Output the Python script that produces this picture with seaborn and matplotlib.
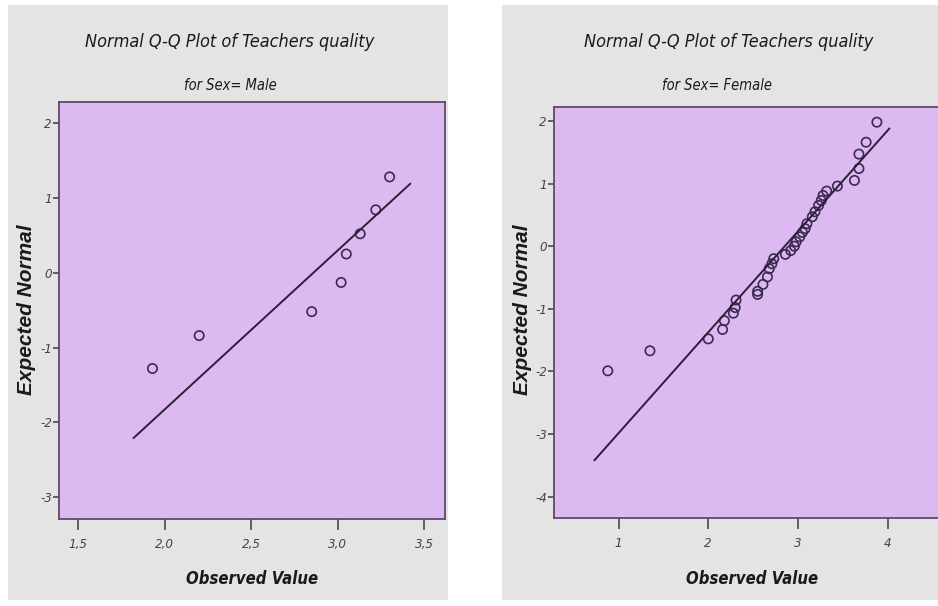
import pandas as pd
import seaborn as sns
import matplotlib.pyplot as plt
from matplotlib.patches import Rectangle
from matplotlib.ticker import FuncFormatter

# Data
male_observed = [1.93, 2.20, 2.85, 3.02, 3.05, 3.13, 3.22, 3.30]
male_expected = [-1.28, -0.84, -0.52, -0.13, 0.25, 0.52, 0.84, 1.28]
male_line_x = [1.82, 3.42]
male_line_y = [-2.21, 1.19]

female_observed = [0.88, 1.35, 2.00, 2.16, 2.18, 2.28, 2.30, 2.31, 2.55, 2.55,
                   2.61, 2.66, 2.68, 2.71, 2.73, 2.86, 2.92, 2.96, 2.98, 3.02,
                   3.05, 3.08, 3.10, 3.16, 3.19, 3.23, 3.26, 3.28, 3.32, 3.44,
                   3.63, 3.68, 3.68, 3.76, 3.88]
female_expected = [-1.99, -1.67, -1.48, -1.33, -1.19, -1.07, -0.98, -0.86, -0.77, -0.72,
                   -0.61, -0.49, -0.36, -0.28, -0.20, -0.13, -0.07, 0.00, 0.07, 0.15,
                   0.22, 0.28, 0.36, 0.47, 0.55, 0.65, 0.73, 0.81, 0.88, 0.96,
                   1.05, 1.24, 1.47, 1.66, 1.98]
female_line_x = [0.73, 4.02]
female_line_y = [-3.42, 1.88]

male_xticks = [1.5, 2.0, 2.5, 3.0, 3.5]
male_yticks = [-3, -2, -1, 0, 1, 2]
female_xticks = [1, 2, 3, 4]
female_yticks = [-4, -3, -2, -1, 0, 1, 2]

sns.set_style("white")
plt.rcParams["font.family"] = ["DejaVu Sans"]
plt.rcParams["axes.unicode_minus"] = False

PANEL_BG = "#e4e4e4"
PLOT_BG = "#dcb9f0"
INK = "#2b2038"
MARK = "#3a2a50"

fig = plt.figure(figsize=(9.38, 6.06), dpi=100)
fig.patch.set_facecolor("white")

# gray chart panels, behind the axes
fig.patches.append(Rectangle((0.0085, 0.0099), 0.469, 0.982, transform=fig.transFigure,
                             facecolor=PANEL_BG, edgecolor="none", zorder=-10))
fig.patches.append(Rectangle((0.535, 0.0099), 0.47, 0.982, transform=fig.transFigure,
                             facecolor=PANEL_BG, edgecolor="none", zorder=-10))

ax1 = fig.add_axes([0.0629, 0.1436, 0.4115, 0.688])
ax2 = fig.add_axes([0.5906, 0.1452, 0.415, 0.678])

male_df = pd.DataFrame({"Observed": male_observed, "Expected": male_expected})
female_df = pd.DataFrame({"Observed": female_observed, "Expected": female_expected})


def comma_fmt(v, pos):
    return f"{v:.1f}".replace(".", ",")


def qq_panel(ax, df, line_x, line_y, xlim, ylim, xticks, yticks, xfmt):
    ax.set_facecolor(PLOT_BG)
    sns.lineplot(x=line_x, y=line_y, ax=ax, color=INK, linewidth=1.4)
    sns.scatterplot(data=df, x="Observed", y="Expected", ax=ax, marker="o",
                    facecolor="none", edgecolor=MARK, linewidth=1.2, s=45)
    ax.set_xlim(*xlim)
    ax.set_ylim(*ylim)
    ax.set_xticks(xticks)
    ax.set_yticks(yticks)
    if xfmt is not None:
        ax.xaxis.set_major_formatter(FuncFormatter(xfmt))
    ax.set(xlabel=None, ylabel=None)
    for s in ax.spines.values():
        s.set_color("#5b4a6a")
        s.set_linewidth(1.3)
    ax.tick_params(axis="x", direction="out", length=8, width=1.2, color="#4a4a4a",
                   labelsize=9.5, labelcolor="#444444", pad=6, bottom=True)
    ax.tick_params(axis="y", direction="out", length=4, width=1.2, color="#4a4a4a",
                   labelsize=9.5, labelcolor="#444444", pad=1, left=True)
    for lab in ax.get_xticklabels() + ax.get_yticklabels():
        lab.set_fontstyle("italic")
        lab.set_fontstretch("condensed")


qq_panel(ax1, male_df, male_line_x, male_line_y, (1.39, 3.62), (-3.29, 2.28),
         male_xticks, male_yticks, comma_fmt)
qq_panel(ax2, female_df, female_line_x, female_line_y, (0.28, 4.62), (-4.34, 2.22),
         female_xticks, female_yticks, None)

# titles and labels
title_kw = dict(fontsize=13, fontstyle="italic", fontstretch="condensed", color="#1a1a1a",
                ha="center", va="center")
sub_kw = dict(fontsize=10.5, fontstyle="italic", fontstretch="condensed",
              color="#1a1a1a", ha="center", va="center")
xl_kw = dict(fontsize=12, fontstyle="italic", fontweight="bold", fontstretch="condensed",
             color="#1a1a1a", ha="center", va="center")
yl_kw = dict(fontsize=15, fontstyle="italic", fontweight="bold", color="#1a1a1a",
             ha="center", va="center", rotation=90,
             family=["Liberation Sans", "DejaVu Sans"])

fig.text(230 / 938, 1 - 42 / 606, "Normal Q-Q Plot of Teachers quality", **title_kw)
fig.text(230 / 938, 1 - 85 / 606, "for Sex= Male", **sub_kw)
fig.text(252 / 938, 1 - 579 / 606, "Observed Value", **xl_kw)
fig.text(27 / 938, 1 - 310 / 606, "Expected Normal", **yl_kw)

fig.text(729 / 938, 1 - 42 / 606, "Normal Q-Q Plot of Teachers quality", **title_kw)
fig.text(717 / 938, 1 - 85 / 606, "for Sex= Female", **sub_kw)
fig.text(752 / 938, 1 - 579 / 606, "Observed Value", **xl_kw)
fig.text(522 / 938, 1 - 310 / 606, "Expected Normal", **yl_kw)

fig.savefig("out.png", dpi=100)
